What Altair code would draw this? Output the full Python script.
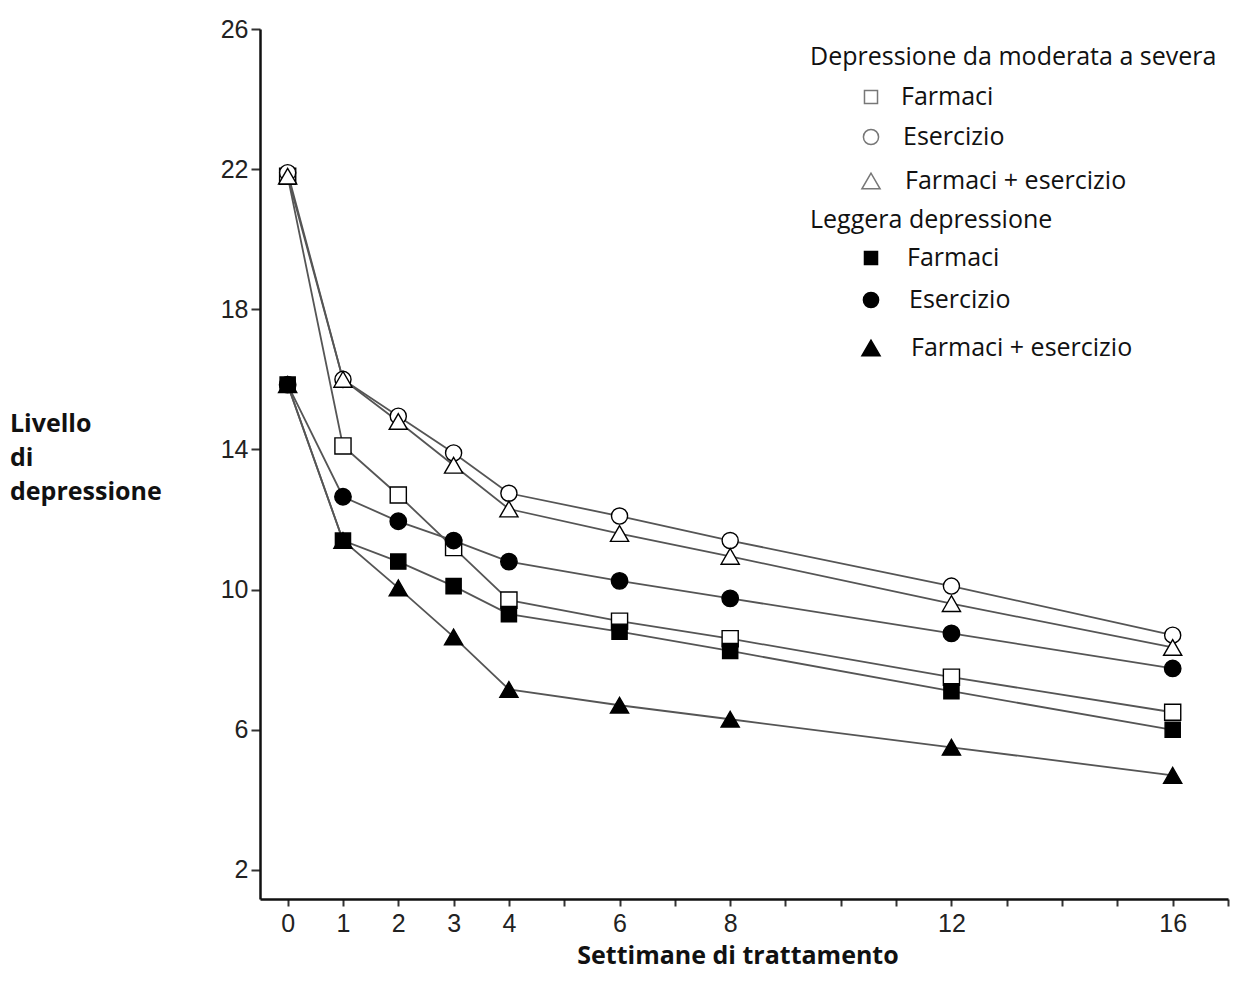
import altair as alt
import pandas as pd

weeks = [0, 1, 2, 3, 4, 6, 8, 12, 16]

mod_farmaci = [21.8, 14.1, 12.7, 11.2, 9.7, 9.1, 8.6, 7.5, 6.5]
mod_esercizio = [21.9, 16.0, 14.95, 13.9, 12.75, 12.1, 11.4, 10.1, 8.7]
mod_comb = [21.8, 16.0, 14.8, 13.55, 12.3, 11.6, 10.95, 9.6, 8.35]
mild_farmaci = [15.85, 11.4, 10.8, 10.1, 9.3, 8.8, 8.25, 7.1, 6.0]
mild_esercizio = [15.85, 12.65, 11.95, 11.4, 10.8, 10.25, 9.75, 8.75, 7.75]
mild_comb = [15.85, 11.4, 10.05, 8.65, 7.15, 6.7, 6.3, 5.5, 4.7]

series_names = ["mod_f", "mod_e", "mod_c", "mild_f", "mild_e", "mild_c"]
series_values = [mod_farmaci, mod_esercizio, mod_comb, mild_farmaci, mild_esercizio, mild_comb]
series_shapes = ["square", "circle", "triangle-up", "square", "circle", "triangle-up"]
series_fills = ["white", "white", "white", "black", "black", "black"]
series_sizes = [260, 260, 330, 230, 270, 330]

x_ticks = list(range(0, 18))
x_labels = [0, 1, 2, 3, 4, 6, 8, 12, 16]
y_ticks = [2, 6, 10, 14, 18, 22, 26]

legend_groups = ["Depressione da moderata a severa", "Leggera depressione"]
legend_labels = ["Farmaci", "Esercizio", "Farmaci + esercizio"]

rows = []
for name, vals, shp, fl, sz in zip(series_names, series_values, series_shapes, series_fills, series_sizes):
    for w, v in zip(weeks, vals):
        rows.append({"week": w, "value": v, "series": name, "shape": shp, "fill": fl, "size": sz})
df = pd.DataFrame(rows)

W, H = 968, 870
xscale = alt.Scale(domain=[-0.5, 17], nice=False, zero=False)
yscale = alt.Scale(domain=[1.17, 26], nice=False, zero=False)

label_expr = "indexof(" + str(x_labels) + ", datum.value) >= 0 ? datum.label : ''"

x_enc = alt.X("week:Q", scale=xscale,
              axis=alt.Axis(values=x_ticks, labelExpr=label_expr, format="d", title=None, grid=False,
                            tickSize=7, tickWidth=2, domainWidth=2.5, domainColor="#111",
                            tickColor="#333", labelFont="Liberation Sans Narrow, Liberation Sans",
                            labelFontSize=25, labelColor="#222", labelPadding=5))
y_enc = alt.Y("value:Q", scale=yscale,
              axis=alt.Axis(values=y_ticks, format="d", title=None, grid=False, tickSize=9, tickWidth=2,
                            domainWidth=2.5, domainColor="#111", tickColor="#333",
                            labelFont="Liberation Sans Narrow, Liberation Sans",
                            labelFontSize=25, labelColor="#222", labelPadding=3))

base = alt.Chart(df)
lines = base.mark_line(color="#555", strokeWidth=1.8).encode(x=x_enc, y=y_enc, detail="series:N")
points = base.mark_point(filled=True, stroke="black", strokeWidth=1.4, opacity=1).encode(
    x="week:Q", y="value:Q",
    shape=alt.Shape("shape:N", scale=None),
    fill=alt.Fill("fill:N", scale=None),
    size=alt.Size("size:Q", scale=None),
    detail="series:N",
)

one = pd.DataFrame({"k": [0]})
layers = [lines, points]

font = "Open Sans"
hdr_y = [28, 191]
row_y = [[68, 108, 152], [229, 271, 319]]
for gi, g in enumerate(legend_groups):
    layers.append(alt.Chart(one).mark_text(align="left", baseline="middle", font=font, fontSize=25,
                                           color="#111").encode(
        x=alt.value(550), y=alt.value(hdr_y[gi]), text=alt.value(g)))
    for li, lab in enumerate(legend_labels):
        filled = gi == 1
        layers.append(alt.Chart(one).mark_point(
            shape=["square", "circle", "triangle-up"][li],
            filled=True,
            fill="black" if filled else "white",
            stroke="black" if filled else "#777",
            strokeWidth=1.5,
            size=[170, 230, 330][li],
            opacity=1).encode(x=alt.value(611), y=alt.value(row_y[gi][li])))
        layers.append(alt.Chart(one).mark_text(align="left", baseline="middle", font=font, fontSize=25,
                                               color="#111").encode(
            x=alt.value(641 + (6 if filled else 0) + li * 2), y=alt.value(row_y[gi][li]),
            text=alt.value(lab)))

ytitle = ["Livello", "di", "depressione"]
for i, t in enumerate(ytitle):
    layers.append(alt.Chart(one).mark_text(align="left", baseline="middle", font=font, fontSize=25,
                                           fontWeight="bold", color="#111").encode(
        x=alt.value(-250), y=alt.value(395 + i * 34), text=alt.value(t)))
layers.append(alt.Chart(one).mark_text(align="center", baseline="alphabetic", font=font, fontSize=25,
                                       fontWeight="bold", color="#111").encode(
    x=alt.value(478), y=alt.value(935), text=alt.value("Settimane di trattamento")))

chart = alt.layer(*layers).properties(
    width=W, height=H,
    background="white",
    autosize=alt.AutoSizeParams(type="none"),
    padding={"left": 252, "top": 21, "right": 2, "bottom": 73},
).configure_view(stroke=None)

chart.save("out.html", embed_options={"renderer": "svg", "actions": False})
